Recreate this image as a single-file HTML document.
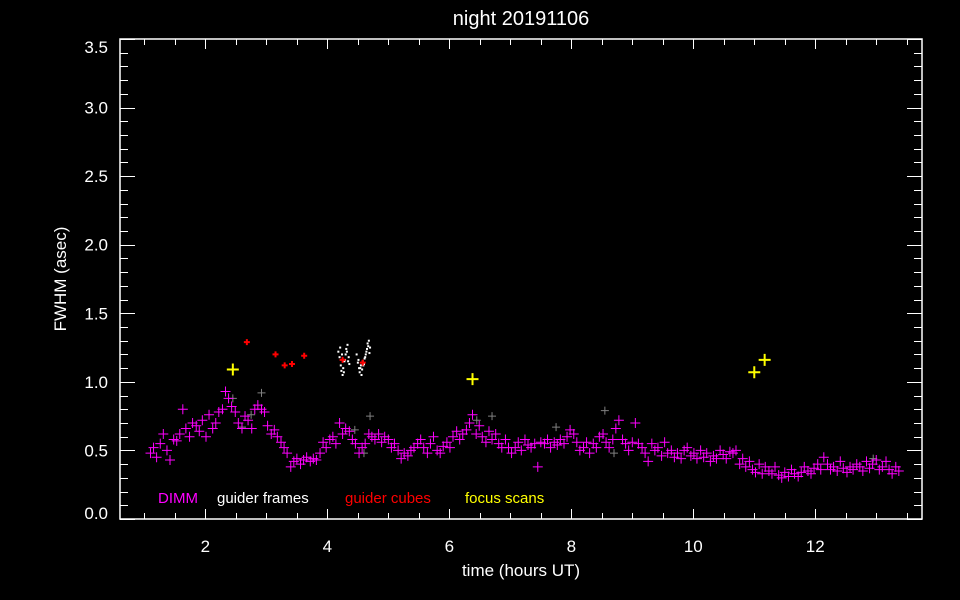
<!DOCTYPE html>
<html><head><meta charset="utf-8"><style>
html,body{margin:0;padding:0;background:#000;}
svg{display:block;font-family:"Liberation Sans",sans-serif;}
</style></head><body>
<svg id="chart" width="960" height="600" xmlns="http://www.w3.org/2000/svg">
<rect x="0" y="0" width="960" height="600" fill="#000"/>
<text x="521" y="25" fill="#fff" font-size="20" text-anchor="middle">night 20191106</text>
<g id="axes"></g>
<g id="marks"></g>
<text x="521" y="576" fill="#fff" font-size="17" text-anchor="middle">time (hours UT)</text>
<text transform="translate(66,279) rotate(-90)" fill="#fff" font-size="17" text-anchor="middle">FWHM (asec)</text>
<g font-size="15">
<text x="158" y="503" fill="#ff00ff">DIMM</text>
<text x="217" y="503" fill="#ffffff">guider frames</text>
<text x="345" y="503" fill="#ff0000">guider cubes</text>
<text x="465" y="503" fill="#ffff00">focus scans</text>
</g>
</svg>
<script>
const dimmT=[1.10,1.15,1.20,1.26,1.31,1.37,1.42,1.48,1.53,1.58,
1.63,1.68,1.74,1.79,1.85,1.90,1.95,2.01,2.06,2.12,
2.17,2.22,2.28,2.33,2.38,2.43,2.49,2.54,2.60,2.65,
2.70,2.76,2.81,2.86,2.92,2.97,3.02,3.08,3.13,3.18,
3.24,3.29,3.34,3.40,3.45,3.50,3.56,3.61,3.66,3.72,
3.77,3.82,3.88,3.93,3.98,4.04,4.09,4.14,4.20,4.25,
4.30,4.36,4.41,4.46,4.52,4.57,4.62,4.68,4.73,4.78,
4.84,4.89,4.94,5.00,5.05,5.10,5.16,5.21,5.26,5.32,
5.37,5.42,5.48,5.53,5.58,5.64,5.69,5.74,5.80,5.85,
5.90,5.96,6.01,6.06,6.12,6.17,6.22,6.28,6.33,6.38,
6.44,6.49,6.54,6.60,6.65,6.70,6.76,6.81,6.86,6.92,
6.97,7.02,7.08,7.13,7.18,7.24,7.29,7.34,7.40,7.45,
7.50,7.56,7.61,7.66,7.72,7.77,7.82,7.88,7.93,7.98,
8.04,8.09,8.14,8.20,8.25,8.30,8.36,8.41,8.46,8.52,
8.57,8.62,8.68,8.73,8.78,8.84,8.89,8.94,9.00,9.05,
9.10,9.16,9.21,9.26,9.32,9.37,9.42,9.48,9.53,9.58,
9.64,9.69,9.74,9.80,9.85,9.90,9.96,10.01,10.06,10.12,
10.17,10.22,10.28,10.33,10.38,10.44,10.49,10.54,10.60,10.65,
10.70,10.76,10.81,10.86,10.92,10.97,11.02,11.08,11.13,11.18,
11.24,11.29,11.34,11.40,11.45,11.50,11.56,11.61,11.66,11.72,
11.77,11.82,11.88,11.93,11.98,12.04,12.09,12.14,12.20,12.25,
12.30,12.36,12.41,12.46,12.52,12.57,12.62,12.68,12.73,12.78,
12.84,12.89,12.94,13.00,13.05,13.10,13.16,13.21,13.26,13.32,13.37];
const dimmV=[.48,.52,.45,.55,.62,.50,.43,.58,.57,.62,
.80,.66,.60,.70,.68,.64,.72,.60,.76,.66,
.70,.78,.80,.93,.88,.82,.78,.70,.66,.75,
.72,.66,.80,.83,.80,.78,.68,.62,.65,.60,
.56,.52,.48,.38,.42,.44,.40,.43,.45,.42,
.44,.43,.48,.56,.52,.58,.60,.55,.70,.62,
.66,.64,.58,.55,.48,.52,.55,.62,.60,.58,
.62,.56,.60,.58,.52,.55,.50,.44,.48,.46,
.50,.52,.55,.58,.52,.48,.55,.60,.50,.48,
.53,.56,.52,.60,.64,.58,.62,.65,.70,.76,
.62,.68,.60,.56,.64,.58,.62,.55,.52,.58,
.52,.48,.52,.56,.50,.58,.54,.52,.55,.38,
.56,.55,.58,.52,.56,.54,.58,.55,.60,.65,
.62,.56,.50,.52,.56,.48,.55,.52,.60,.62,
.56,.52,.58,.66,.72,.58,.55,.50,.56,.70,
.55,.52,.48,.42,.55,.50,.52,.46,.56,.48,
.50,.45,.48,.44,.50,.52,.46,.48,.44,.50,
.45,.48,.42,.46,.44,.50,.47,.44,.49,.48,
.50,.40,.44,.38,.42,.36,.34,.40,.33,.38,
.35,.33,.38,.32,.30,.34,.31,.36,.33,.31,
.34,.38,.35,.33,.37,.40,.36,.45,.40,.36,
.38,.35,.42,.37,.34,.38,.36,.40,.38,.35,
.42,.37,.40,.43,.36,.38,.42,.36,.33,.38,.35];
const frameT=[2.45,2.60,2.75,2.92,4.45,4.60,4.70,6.70,6.45,7.75,8.55,8.70,12.95];
const frameV=[0.88,0.67,0.76,0.92,0.65,0.48,0.75,0.75,0.72,0.67,0.79,0.48,0.44];
const cubeT=[2.68,3.15,3.30,3.42,3.62,4.25,4.58];
const cubeV=[1.29,1.20,1.12,1.13,1.19,1.16,1.14];
const focusT=[2.45,6.38,11.00,11.17];
const focusV=[1.09,1.02,1.07,1.16];
const dotT=[4.18,4.20,4.22,4.23,4.25,4.26,4.28,4.30,4.31,4.33,4.35,4.36,4.21,4.24,4.27,4.29,4.32,4.34,
4.48,4.50,4.52,4.53,4.55,4.57,4.58,4.60,4.62,4.63,4.65,4.66,4.68,4.70,4.51,4.54,4.56,4.59,4.61,4.64,4.67,4.69];
const dotV=[1.22,1.18,1.12,1.08,1.05,1.10,1.15,1.20,1.24,1.27,1.18,1.13,1.25,1.20,1.07,1.16,1.22,1.15,
1.20,1.14,1.10,1.07,1.12,1.09,1.15,1.13,1.18,1.20,1.24,1.28,1.30,1.25,1.16,1.10,1.05,1.12,1.17,1.22,1.26,1.21];
const xTicks=[2,4,6,8,10,12];
const yTicks=[0.0,0.5,1.0,1.5,2.0,2.5,3.0,3.5];
const yLabels=["0.0","0.5","1.0","1.5","2.0","2.5","3.0","3.5"];

const L=120,R=922,T=39,B=519,XMIN=0.6,XMAX=13.75,YMIN=0,YMAX=3.5;
const X=t=>L+(t-XMIN)/(XMAX-XMIN)*(R-L);
const Y=v=>B-(v-YMIN)/(YMAX-YMIN)*(B-T);
const NS="http://www.w3.org/2000/svg";
const axes=document.getElementById('axes'),marks=document.getElementById('marks');
function mk(tag,attrs,parent){const e=document.createElementNS(NS,tag);for(const k in attrs)e.setAttribute(k,attrs[k]);parent.appendChild(e);return e;}
const frame=mk('rect',{x:L,y:T,width:R-L,height:B-T,fill:'none',stroke:'#fff','stroke-width':1.5},axes);


// y ticks
for(let i=0;i<=35;i++){const v=i/10;const y=Math.round(Y(v))+0.5;const major=(i%5===0);const len=major?15:8;
 const a=mk('line',{x1:L,y1:y,x2:L+len,y2:y,stroke:'#fff'},axes);
 
 
 const b=mk('line',{x1:R,y1:y,x2:R-len,y2:y,stroke:'#fff'},axes);
 
 }
yTicks.forEach((v,i)=>{let y=Y(v)+6;if(i===0)y-=6;if(i===yTicks.length-1)y+=8;
 const t=mk('text',{x:108,y:y,fill:'#fff','font-size':17,'text-anchor':'end'},axes);t.textContent=yLabels[i];
 
 });
// x ticks
for(let v=1;v<=13.5;v+=0.5){const x=Math.round(X(v))+0.5;const major=(v%2===0);const len=major?10:6;
 const a=mk('line',{x1:x,y1:B,x2:x,y2:B-len,stroke:'#fff'},axes);
 
 
 const b=mk('line',{x1:x,y1:T,x2:x,y2:T+len,stroke:'#fff'},axes);
 
 }
xTicks.forEach(v=>{const t=mk('text',{x:X(v),y:552,fill:'#fff','font-size':17,'text-anchor':'middle'},axes);t.textContent=String(v);
 
 });
function cross(t,v,s,color,w,name){const x=X(t),y=Y(v);
 const p=mk('path',{d:`M${x-s},${y}H${x+s}M${x},${y-s}V${y+s}`,stroke:color,'stroke-width':w,fill:'none'},marks);
 
 }
dotT.forEach((t,i)=>{const r=mk('rect',{x:X(t)-1,y:Y(dotV[i])-1,width:2,height:2,fill:'#fff'},marks);
 
 });
frameT.forEach((t,i)=>cross(t,frameV[i],4,'#808080',1,'guider-frame-point'));
dimmT.forEach((t,i)=>cross(t,dimmV[i],5,'#ff00ff',1,'dimm-point'));
cubeT.forEach((t,i)=>cross(t,cubeV[i],3,'#ff0000',2,'guider-cube-point'));
focusT.forEach((t,i)=>cross(t,focusV[i],6,'#ffff00',2,'focus-scan-point'));
</script>
</body></html>
